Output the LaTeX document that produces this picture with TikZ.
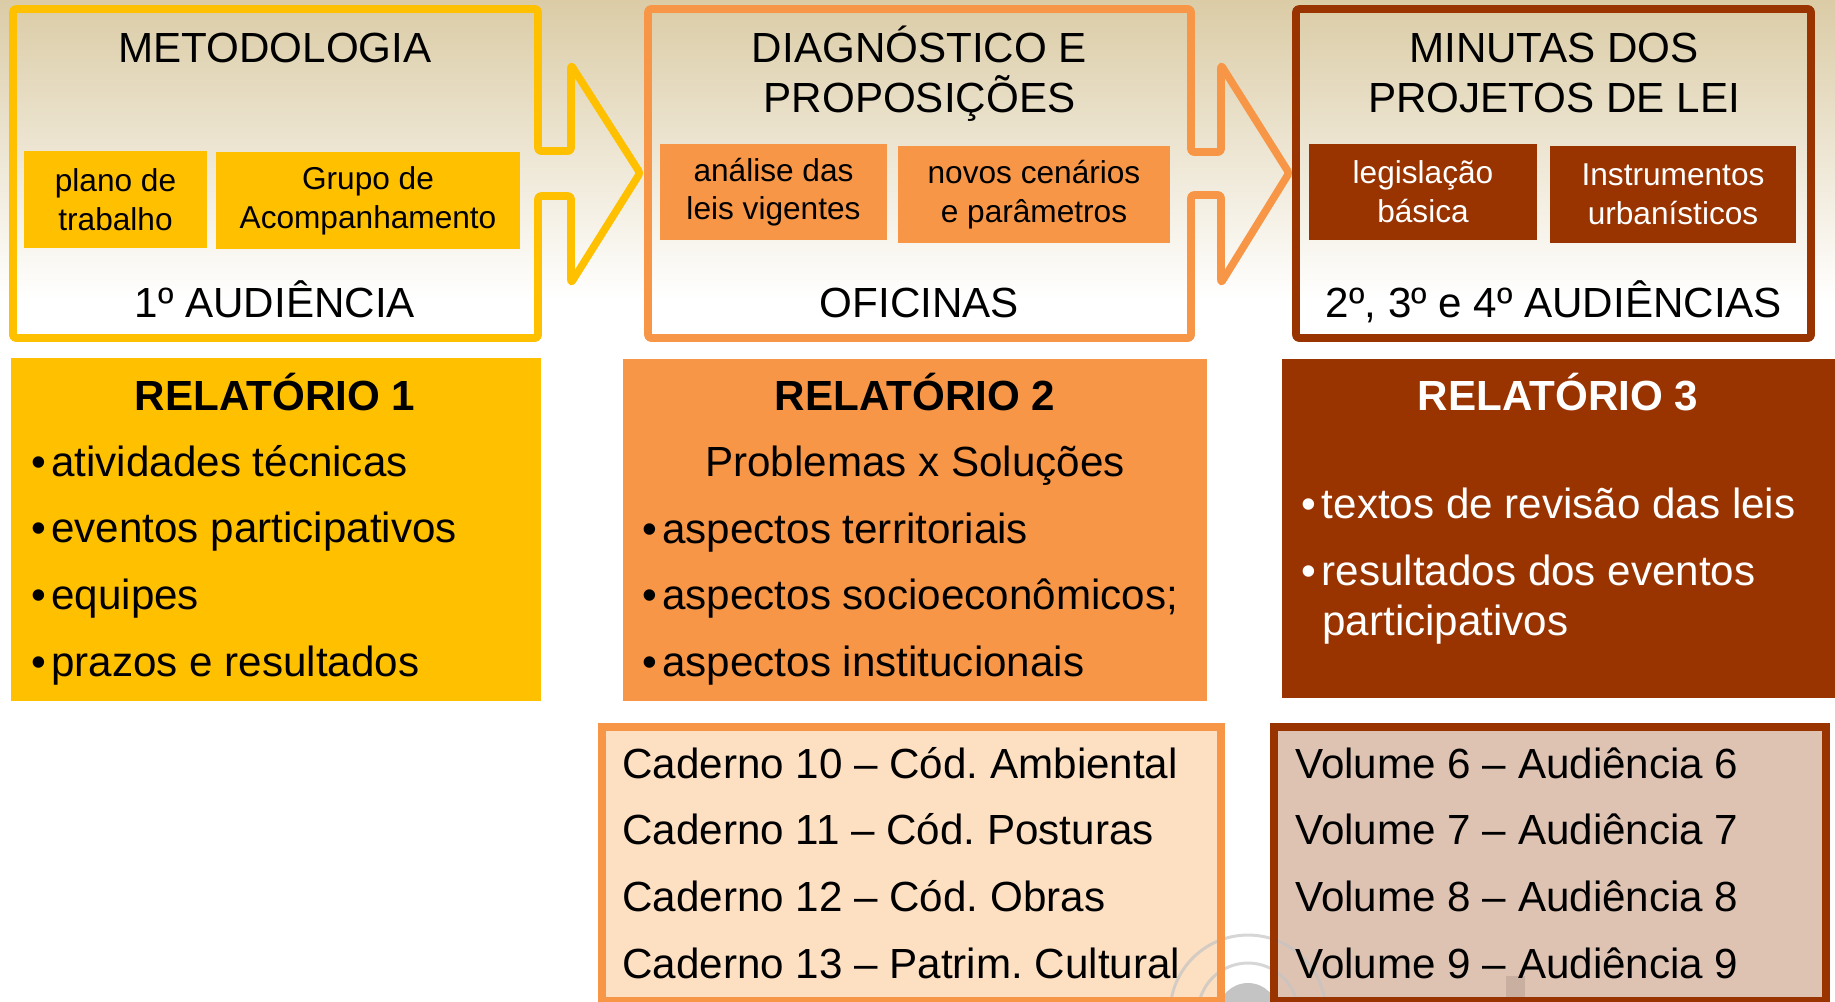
\documentclass[tikz,border=0pt]{standalone}
\usepackage{fontspec}
\setmainfont{Liberation Sans}

\definecolor{amarelo}{HTML}{FFC000}
\definecolor{laranja}{HTML}{F79646}
\definecolor{marrom}{HTML}{993300}
\definecolor{pessego}{HTML}{FDDFC2}
\definecolor{rosado}{HTML}{DFC3B2}
\definecolor{areia}{HTML}{DBCCA6}
\definecolor{cinza}{HTML}{C4C4C4}

\def\fgrande{\fontsize{24}{28.5}\selectfont}
\def\fmedia{\fontsize{18}{22}\selectfont}
\def\bul{\textbullet\hspace{3pt}}

\tikzset{
  moldura/.style={line width=4.3pt, rounded corners=1.5pt, line join=round},
  titulo/.style={anchor=base, inner sep=0pt, font=\fgrande},
  caixa/.style={inner sep=0pt, outer sep=0pt, align=center, font=\fmedia},
  rtitulo/.style={anchor=base, inner sep=0pt, font=\fgrande\bfseries},
  item/.style={anchor=base west, inner sep=0pt, font=\fgrande}
}

\begin{document}
\frenchspacing
\begin{tikzpicture}[x=0.02cm, y=-0.02cm]
  \useasboundingbox (0,0) rectangle (1835,1001);
  \clip (0,0) rectangle (1835,1001);
  % fundo em degrade
  \shade[top color=areia, bottom color=white] (0,0) rectangle (1835,300);

  % etapas, as duas primeiras com seta
  \draw[moldura, draw=amarelo] (13,9) -- (538,9) -- (538,151) -- (571,151)
    -- (571,65) -- (640,173) -- (571,283) -- (571,196) -- (538,196)
    -- (538,338) -- (13,338) -- cycle;
  \draw[moldura, draw=laranja] (648,9) -- (1191,9) -- (1191,152) -- (1221,152)
    -- (1221,65) -- (1289,173) -- (1221,283) -- (1221,195) -- (1191,195)
    -- (1191,338) -- (648,338) -- cycle;
  \draw[moldura, draw=marrom] (1296,9) rectangle (1811,338);

  \node[titulo] (metod) at (275,62) {METODOLOGIA};
  \node[titulo] (aud1) at (275,317) {1º AUDIÊNCIA};
  \node[titulo] (diag) at (919.5,62) {DIAGNÓSTICO E};
  \node[titulo] (prop) at (919.5,112) {PROPOSIÇÕES};
  \node[titulo] (ofic) at (919.5,317) {OFICINAS};
  \node[titulo] (minut) at (1554,62) {MINUTAS DOS};
  \node[titulo] (proj) at (1554,112) {PROJETOS DE LEI};
  \node[titulo] (aud2) at (1554,317) {2º, 3º e 4º AUDIÊNCIAS};

  \node[caixa, fill=amarelo, minimum width=3.66cm, minimum height=1.94cm]
    (plano) at (115.5,199.5) {plano de\\trabalho};
  \node[caixa, fill=amarelo, minimum width=6.08cm, minimum height=1.94cm]
    (grupo) at (368,200.5) {Grupo de\\Acompanhamento};
  \node[caixa, fill=laranja, minimum width=4.54cm, minimum height=1.92cm]
    (analise) at (773.5,192) {análise das\\leis vigentes};
  \node[caixa, fill=laranja, minimum width=5.45cm, minimum height=1.94cm]
    (novos) at (1034,194.5) {novos cenários\\e parâmetros};
  \node[caixa, fill=marrom, text=white, minimum width=4.55cm, minimum height=1.92cm]
    (legis) at (1423,192) {legislação\\básica};
  \node[caixa, fill=marrom, text=white, minimum width=4.92cm, minimum height=1.94cm]
    (instr) at (1673,194.5) {Instrumentos\\urbanísticos};

  % relatorios
  \fill[amarelo] (11,358) rectangle (541,701);
  \fill[laranja] (623,359) rectangle (1207,701);
  \fill[marrom] (1282,359) rectangle (1835,698);

  \node[rtitulo] (rel1) at (275,410) {RELATÓRIO 1};
  \foreach \txt [count=\i] in {atividades técnicas, eventos participativos,
      equipes, prazos e resultados}
    \node[item] (r1-\i) at (31,{409.5+66.7*\i}) {\bul\txt};

  \node[rtitulo] (rel2) at (915,410) {RELATÓRIO 2};
  \node[titulo] (probl) at (915,476.5) {Problemas x Soluções};
  \foreach \txt [count=\i] in {aspectos territoriais,
      aspectos socioeconômicos;, aspectos institucionais}
    \node[item] (r2-\i) at (642,{476.3+66.7*\i}) {\bul\txt};

  \node[rtitulo, text=white] (rel3) at (1558,410.5) {RELATÓRIO 3};
  \node[item, text=white] (r3-1) at (1301.5,518) {\bul textos de revisão das leis};
  \node[item, text=white] (r3-2) at (1301.5,585) {\bul resultados dos eventos};
  \node[item, text=white] (r3-3) at (1322,635) {participativos};

  % cadernos e volumes
  \fill[pessego] (602,727) rectangle (1221,1001);
  \fill[rosado] (1274,727) rectangle (1826,1001);
  \begin{scope}[cinza, line width=1.7pt]
    \fill (1248,1013) circle[radius=0.6cm];
    \draw[opacity=.7] (1248,1013) circle[radius=1cm];
    \draw[opacity=.7] (1248,1013) circle[radius=1.56cm];
  \end{scope}
  \fill[rosado!80!black, opacity=.5] (1506,976) rectangle (1525,1001);
  \draw[line width=4.3pt, draw=laranja] (602,727) rectangle (1221,1000.7);
  \draw[line width=4.3pt, draw=marrom] (1274,727) rectangle (1826,1000.7);

  \foreach \txt [count=\i] in {Caderno 10 – Cód. Ambiental,
      Caderno 11 – Cód. Posturas, Caderno 12 – Cód. Obras,
      Caderno 13 – Patrim. Cultural}
    \node[item] (cad\i) at (622,{711.3+66.7*\i}) {\txt};
  \foreach \n [count=\i] in {6,7,8,9}
    \node[item] (vol\n) at (1295,{711.3+66.7*\i}) {Volume \n\ – Audiência \n};
\end{tikzpicture}
\end{document}
